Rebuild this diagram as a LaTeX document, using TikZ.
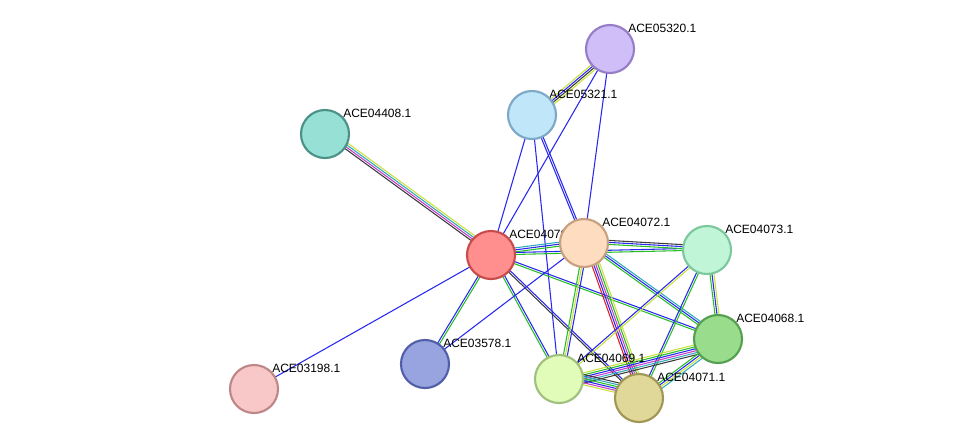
\documentclass[tikz,border=0pt]{standalone}
\usepackage{fontspec}
\setmainfont{Liberation Sans}
\usetikzlibrary{calc}

\definecolor{cnb}{RGB}{40,190,40}   % neighborhood
\definecolor{cco}{RGB}{40,40,240}   % cooccurrence
\definecolor{ctm}{RGB}{200,225,60}  % textmining
\definecolor{cex}{RGB}{200,60,200}  % experiments
\definecolor{cdb}{RGB}{50,170,190}  % databases
\definecolor{cce}{RGB}{60,60,60}    % coexpression
\definecolor{cfu}{RGB}{230,30,30}   % fusion

\tikzset{
  prot/.style={circle,minimum size=36,inner sep=0,line width=1.6},
  plabel/.style={anchor=base west,font=\fontsize{9}{10}\selectfont,inner sep=0},
}

% \ppi{from}{to}{colour list}
\newcommand{\ppi}[3]{%
  \foreach \c [count=\i] in {#3} {
    \pgfmathsetmacro{\off}{(\i-1)*1.5}
    \draw[\c,line width=0.8] ($(#1)!\off pt!90:(#2)$) -- ($(#2)!\off pt!-90:(#1)$);
  }}

\begin{document}
\begin{tikzpicture}[x=0.75pt,y=-0.75pt]
\useasboundingbox (0,0) rectangle (976,444);

\coordinate (p5320) at (610,49);
\coordinate (p5321) at (532,115);
\coordinate (p4408) at (325,134);
\coordinate (p4070) at (491,255);
\coordinate (p4072) at (584,243);
\coordinate (p4073) at (707,250);
\coordinate (p4068) at (718,339);
\coordinate (p4069) at (559,379);
\coordinate (p4071) at (639,398);
\coordinate (p3578) at (425,364);
\coordinate (p3198) at (254,389);

% edges
\ppi{p5320}{p5321}{ctm,cco,cce,ctm}
\ppi{p5320}{p4070}{cco}
\ppi{p5320}{p4072}{cco}
\ppi{p5321}{p4070}{cco}
\ppi{p5321}{p4072}{cco,cco}
\ppi{p5321}{p4069}{cco}
\ppi{p4408}{p4070}{cce,cex,cdb,ctm}
\ppi{p4070}{p4072}{cnb,cco,cdb}
\ppi{p4070}{p4073}{cnb,cco}
\ppi{p4070}{p4068}{cnb,cco}
\ppi{p4070}{p4069}{cnb,cco}
\ppi{p4070}{p4071}{cce,cco}
\ppi{p4070}{p3578}{cco,cnb}
\ppi{p4070}{p3198}{cco}
\ppi{p4072}{p3578}{cco}
\ppi{p4072}{p4073}{cnb,cco,cce}
\ppi{p4072}{p4068}{cnb,cco,cdb}
\ppi{p4072}{p4069}{cnb,ctm,cco}
\ppi{p4072}{p4071}{cfu,cco,cex,cnb,ctm}
\ppi{p4073}{p4068}{cnb,cco,ctm}
\ppi{p4073}{p4069}{cco,ctm}
\ppi{p4073}{p4071}{cco,cnb}
\ppi{p4068}{p4069}{ctm,cnb,cco,cex,cdb,cce}
\ppi{p4068}{p4071}{cnb,cco,ctm,cdb}
\ppi{p4069}{p4071}{ctm,cex,cco,cnb,cdb,cce}

% labels
\node[plabel] at ($(p5320)+(18,-17)$) {ACE05320.1};
\node[plabel] at ($(p5321)+(17,-17)$) {ACE05321.1};
\node[plabel] at ($(p4408)+(18,-17)$) {ACE04408.1};
\node[plabel] at ($(p4070)+(18,-17)$) {ACE04070.1};
\node[plabel] at ($(p4072)+(18,-17)$) {ACE04072.1};
\node[plabel] at ($(p4073)+(18,-17)$) {ACE04073.1};
\node[plabel] at ($(p4068)+(18,-17)$) {ACE04068.1};
\node[plabel] at ($(p4069)+(18,-17)$) {ACE04069.1};
\node[plabel] at ($(p4071)+(18,-17)$) {ACE04071.1};
\node[plabel] at ($(p3578)+(18,-17)$) {ACE03578.1};
\node[plabel] at ($(p3198)+(18,-17)$) {ACE03198.1};

% proteins
\node[prot,fill={rgb,255:red,208;green,190;blue,248},draw={rgb,255:red,150;green,125;blue,200}] (n5320) at (p5320) {};
\node[prot,fill={rgb,255:red,192;green,230;blue,250},draw={rgb,255:red,125;green,168;blue,200}] (n5321) at (p5321) {};
\node[prot,fill={rgb,255:red,150;green,224;blue,214},draw={rgb,255:red,75;green,145;blue,135}] (n4408) at (p4408) {};
\node[prot,fill={rgb,255:red,255;green,143;blue,143},draw={rgb,255:red,200;green,75;blue,75}] (n4070) at (p4070) {};
\node[prot,fill={rgb,255:red,253;green,220;blue,192},draw={rgb,255:red,200;green,160;blue,128}] (n4072) at (p4072) {};
\node[prot,fill={rgb,255:red,192;green,245;blue,216},draw={rgb,255:red,125;green,200;blue,155}] (n4073) at (p4073) {};
\node[prot,fill={rgb,255:red,152;green,220;blue,140},draw={rgb,255:red,85;green,160;blue,80}] (n4068) at (p4068) {};
\node[prot,fill={rgb,255:red,224;green,252;blue,184},draw={rgb,255:red,160;green,192;blue,128}] (n4069) at (p4069) {};
\node[prot,fill={rgb,255:red,224;green,216;blue,152},draw={rgb,255:red,160;green,150;blue,85}] (n4071) at (p4071) {};
\node[prot,fill={rgb,255:red,152;green,164;blue,224},draw={rgb,255:red,80;green,95;blue,168}] (n3578) at (p3578) {};
\node[prot,fill={rgb,255:red,248;green,200;blue,200},draw={rgb,255:red,190;green,135;blue,135}] (n3198) at (p3198) {};
\end{tikzpicture}
\end{document}
